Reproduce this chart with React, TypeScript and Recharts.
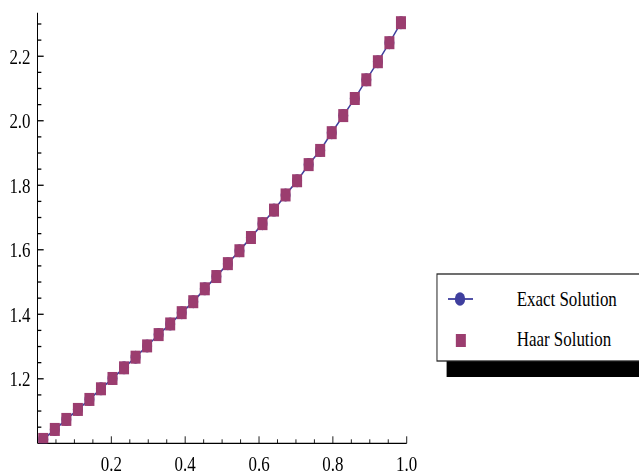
import React from "react";
import { ComposedChart, Line, Scatter, XAxis, YAxis } from "recharts";

// collocation points (x) and the two solutions
const xPoints = [
  0.0156, 0.0469, 0.0781, 0.1094, 0.1406, 0.1719, 0.2031, 0.2344, 0.2656, 0.2969, 0.3281,
  0.3594, 0.3906, 0.4219, 0.4531, 0.4844, 0.5156, 0.5469, 0.5781, 0.6094, 0.6406, 0.6719,
  0.7031, 0.7344, 0.7656, 0.7969, 0.8281, 0.8594, 0.8906, 0.9219, 0.9531, 0.9844,
];
const exactValues = [
  1.012, 1.043, 1.074, 1.105, 1.136, 1.169, 1.201, 1.234, 1.267, 1.302, 1.337, 1.37, 1.405,
  1.439, 1.479, 1.517, 1.557, 1.597, 1.638, 1.681, 1.723, 1.77, 1.814, 1.864, 1.908, 1.963,
  2.016, 2.069, 2.127, 2.183, 2.242, 2.304,
];
const haarValues = [
  1.012, 1.043, 1.074, 1.105, 1.136, 1.169, 1.201, 1.234, 1.267, 1.302, 1.337, 1.37, 1.405,
  1.439, 1.479, 1.517, 1.557, 1.597, 1.638, 1.681, 1.723, 1.77, 1.814, 1.864, 1.908, 1.963,
  2.016, 2.069, 2.127, 2.183, 2.242, 2.304,
];

const xTicks = [
  0.05, 0.1, 0.15, 0.2, 0.25, 0.3, 0.35, 0.4, 0.45, 0.5, 0.55, 0.6, 0.65, 0.7, 0.75, 0.8, 0.85,
  0.9, 0.95, 1.0,
];
const xLabels = ["0.2", "0.4", "0.6", "0.8", "1.0"];
const yTicks = [
  1.05, 1.1, 1.15, 1.2, 1.25, 1.3, 1.35, 1.4, 1.45, 1.5, 1.55, 1.6, 1.65, 1.7, 1.75, 1.8, 1.85,
  1.9, 1.95, 2.0, 2.05, 2.1, 2.15, 2.2, 2.25, 2.3,
];
const yLabels = ["1.2", "1.4", "1.6", "1.8", "2.0", "2.2"];

const seriesNames = ["Exact Solution", "Haar Solution"];

const data = xPoints.map((x, i) => ({ x, exact: exactValues[i], haar: haarValues[i] }));

// the original picture is squeezed horizontally
const SX = 0.77;
const W = 830;
const H = 475;
const FONT = "'Liberation Serif', 'Times New Roman', serif";
const BLUE = "#3f3f9e";
const PLUM = "#9b3d6f";

// a label only where the tick value is exactly one of the listed labels
const labelFor = (v: number, labels: string[]) =>
  labels.find((l) => Math.abs(Number(l) - v) < 1e-6);

const XTick = (props: any) => {
  const { x, y, payload } = props;
  const label = labelFor(Number(payload.value), xLabels);
  return (
    <g>
      <line x1={x} x2={x} y1={y} y2={y - (label ? 7 : 4)} stroke="#000" strokeWidth={1} />
      {label && (
        <text x={x} y={y + 28} textAnchor="middle" fontSize={22} fontFamily={FONT} fill="#000">
          {label}
        </text>
      )}
    </g>
  );
};

const YTick = (props: any) => {
  const { x, y, payload } = props;
  const label = labelFor(Number(payload.value), yLabels);
  return (
    <g>
      <line x1={x} x2={x + (label ? 8 : 5)} y1={y} y2={y} stroke="#000" strokeWidth={1.3} />
      {label && (
        <text x={x - 9} y={y} dy="0.34em" textAnchor="end" fontSize={22} fontFamily={FONT} fill="#000">
          {label}
        </text>
      )}
    </g>
  );
};

const Square = (props: any) => {
  const { cx, cy } = props;
  if (cx == null || cy == null) return null;
  return <rect x={cx - 6.5} y={cy - 6.5} width={13} height={13} fill={PLUM} />;
};

export default function App() {
  return (
    <div
      style={{
        position: "absolute",
        left: 0,
        top: 0,
        width: 639,
        height: H,
        overflow: "hidden",
        background: "#fff",
      }}
    >
      <div
        style={{
          position: "relative",
          width: W,
          height: H,
          transform: `scaleX(${SX})`,
          transformOrigin: "0 0",
        }}
      >
        <ComposedChart
          width={W}
          height={H}
          data={data}
          margin={{ top: 12.7, right: W - 528.2, left: 0, bottom: 0 }}
        >
          <XAxis
            type="number"
            dataKey="x"
            domain={[0, 1]}
            ticks={xTicks}
            interval={0}
            height={31.7}
            tickSize={0}
            tickMargin={0}
            tickLine={false}
            axisLine={{ stroke: "#000", strokeWidth: 1.3 }}
            tick={<XTick />}
            allowDataOverflow
          />
          <YAxis
            type="number"
            domain={[1, 2.335]}
            ticks={yTicks}
            interval={0}
            width={48.7}
            tickSize={0}
            tickMargin={0}
            tickLine={false}
            axisLine={{ stroke: "#000", strokeWidth: 1.3 }}
            tick={<YTick />}
            allowDataOverflow
          />
          <Line
            dataKey="exact"
            name={seriesNames[0]}
            type="linear"
            stroke={BLUE}
            strokeWidth={1.8}
            dot={{ r: 6.5, fill: BLUE, stroke: "none" }}
            isAnimationActive={false}
          />
          <Scatter
            dataKey="haar"
            name={seriesNames[1]}
            shape={<Square />}
            isAnimationActive={false}
          />
        </ComposedChart>

        <svg
          width={W}
          height={H}
          style={{ position: "absolute", left: 0, top: 0, pointerEvents: "none" }}
        >
          <rect x={580} y={290} width={300} height={87} fill="#000" />
          <rect x={567.5} y={274} width={300} height={87} fill="#fff" stroke="#222" strokeWidth={1.3} />
          <line x1={581.8} x2={614.3} y1={299} y2={299} stroke={BLUE} strokeWidth={1.8} />
          <circle cx={597.4} cy={299} r={6.7} fill={BLUE} />
          <rect x={592} y={334} width={13} height={13} fill={PLUM} />
          <text x={671} y={306} fontSize={22} fontFamily={FONT} fill="#000">
            {seriesNames[0]}
          </text>
          <text x={671} y={346.5} fontSize={22} fontFamily={FONT} fill="#000">
            {seriesNames[1]}
          </text>
        </svg>
      </div>
    </div>
  );
}
